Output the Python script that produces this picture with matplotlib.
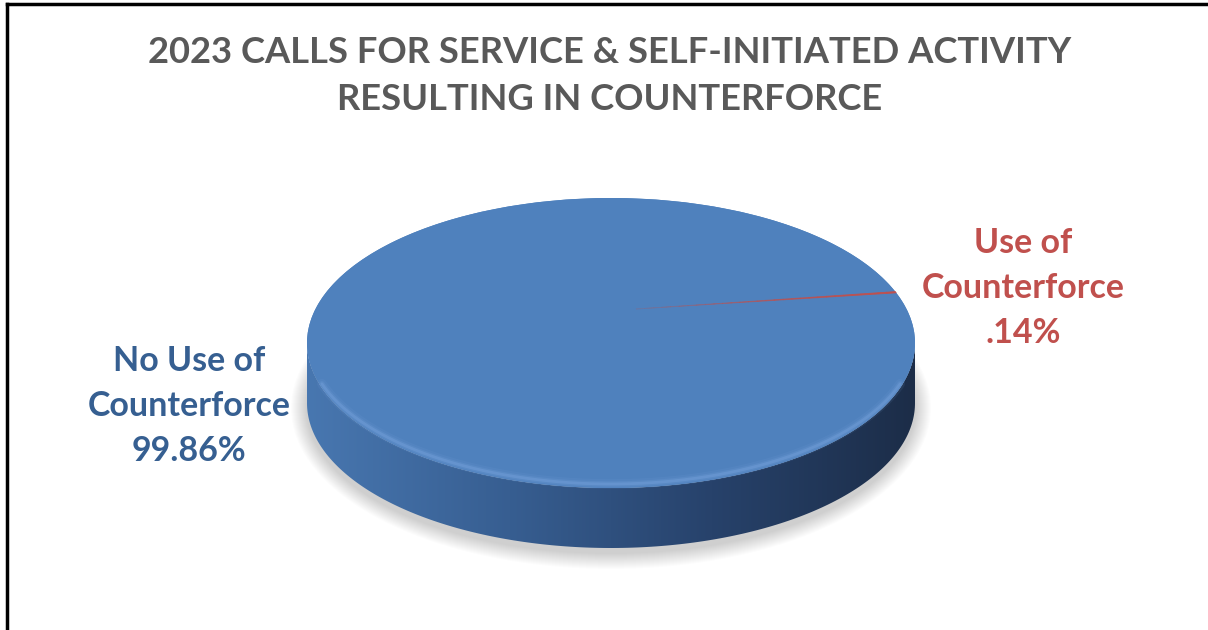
import numpy as np
import matplotlib.pyplot as plt
from matplotlib.patches import Ellipse, PathPatch, Polygon
from matplotlib.path import Path
from matplotlib.colors import LinearSegmentedColormap

# chart data
labels = ["No Use of\nCounterforce\n99.86%", "Use of\nCounterforce\n.14%"]
values = [99.86, 0.14]
colors = ["#4F81BD", "#C0504D"]
label_colors = ["#365F91", "#C0504D"]
title = "2023 CALLS FOR SERVICE & SELF-INITIATED ACTIVITY\nRESULTING IN COUNTERFORCE"

W, H = 1208, 630
fig = plt.figure(figsize=(W / 100, H / 100), dpi=100)
ax = fig.add_axes([0, 0, 1, 1])
ax.set_xlim(0, W)
ax.set_ylim(H, 0)
ax.axis("off")

# pie geometry (pixels); apex is shifted for the tilted view
cx, cy, rx, ry, depth = 611, 343, 304, 145, 60
apex = (cx + 25, cy - 34)


def rim(theta_deg):
    th = np.radians(theta_deg)
    return np.column_stack([cx + rx * np.cos(th), cy - ry * np.sin(th)])


# soft shadow under the disc
for i in range(16, 0, -1):
    ax.add_patch(Ellipse((cx, cy + depth + 5), 2 * rx + 2 * i, 2 * ry + 2 * i,
                         color="#000000", alpha=0.012, lw=0, zorder=1))

# side of the disc with a left-to-right gradient
upper = rim(np.linspace(180, 360, 200))
lower = upper[::-1] + [0, depth]
side = Path(np.vstack([upper, lower, upper[:1]]), closed=True)
side_patch = PathPatch(side, facecolor="none", edgecolor="none")
ax.add_patch(side_patch)
cmap = LinearSegmentedColormap.from_list("side", ["#4877B0", "#375E91", "#27426B", "#1C2D48"])
grad = np.linspace(0, 1, 256).reshape(1, -1)
im = ax.imshow(grad, cmap=cmap, extent=[cx - rx, cx + rx, cy + ry + depth, cy - 5],
               aspect="auto", zorder=2)
im.set_clip_path(side_patch)

# top face: slices from the values
total = sum(values)
small_mid = 20.5
small_span = values[1] / total * 360
t1, t2 = small_mid - small_span / 2, small_mid + small_span / 2
big = rim(np.linspace(t2, t1 + 360, 400))
ax.add_patch(Polygon(np.vstack([[apex], big]), closed=True, facecolor=colors[0],
                     edgecolor="none", zorder=3))
ax.add_patch(Ellipse((cx, cy), 2 * rx, 2 * ry, facecolor=colors[0], edgecolor="none", zorder=3))
edge = rim(np.array([t1, t2]))
steps = 30
for k in range(steps):
    f0, f1 = k / steps, (k + 1) / steps
    a0 = np.array(apex) + f0 * (edge - np.array(apex))
    a1 = np.array(apex) + f1 * (edge - np.array(apex))
    quad = np.vstack([a0[0], a1[0], a1[1], a0[1]])
    ax.add_patch(Polygon(quad, closed=True, facecolor=colors[1], edgecolor=colors[1],
                         lw=0.6, alpha=min(1.0, 0.15 + 0.9 * f1), zorder=4))

# soft highlight along the front edge
for w, a in [(7, 0.10), (4, 0.18), (2, 0.35)]:
    ta = np.linspace(198, 342, 200)
    p = rim(ta)
    p[:, 1] -= 4
    ax.plot(p[:, 0], p[:, 1], color="#7AA6E0", lw=w, alpha=a, zorder=4,
            solid_capstyle="round")

# labels
ax.text(189, 406, labels[0], ha="center", va="center", fontsize=24.5, fontweight="bold",
        color=label_colors[0], family="Lato", linespacing=1.5)
ax.text(1023, 288, labels[1], ha="center", va="center", fontsize=24.5, fontweight="bold",
        color=label_colors[1], family="Lato", linespacing=1.5)

# title
ax.text(610, 76, title, ha="center", va="center", fontsize=26.2, fontweight="bold",
        color="#595959", family="Lato", linespacing=1.5)

# frame: top and left edges only
ax.plot([7, W], [4, 4], color="black", lw=2.5, zorder=5)
ax.plot([7, 7], [4, H], color="black", lw=2.5, zorder=5)

fig.savefig("out.png", dpi=100)
